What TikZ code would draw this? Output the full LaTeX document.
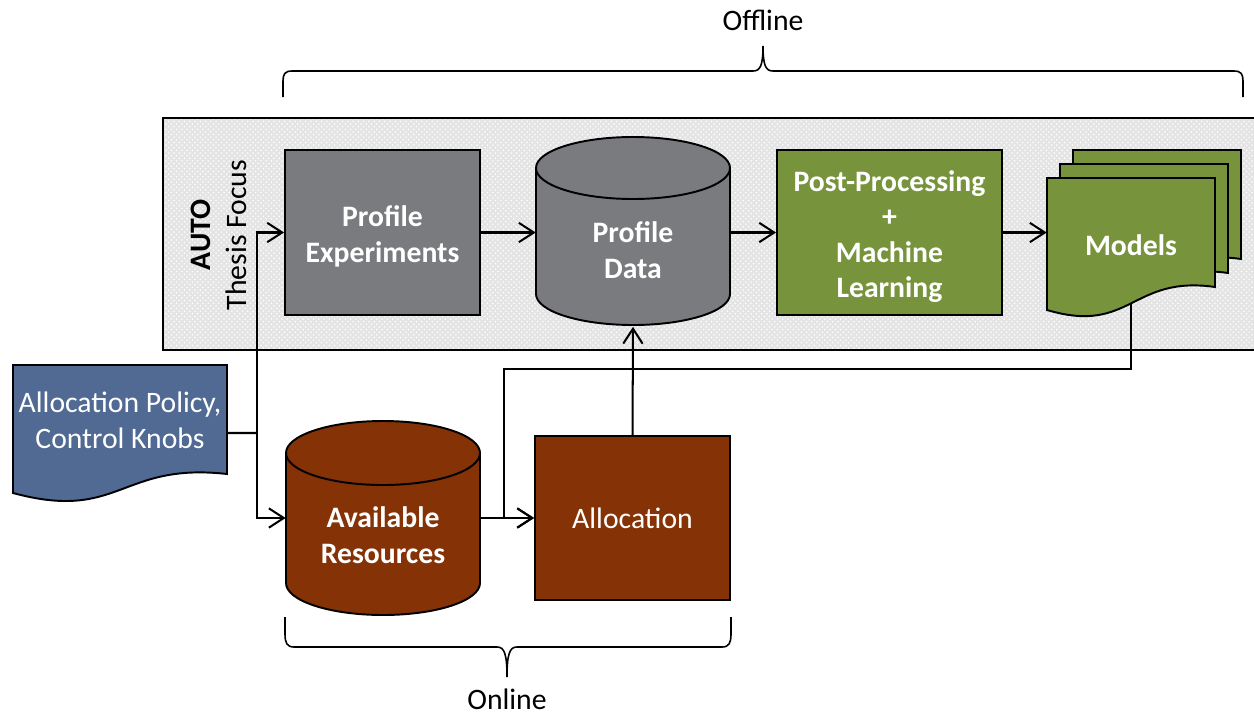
\documentclass[tikz,border=0pt]{standalone}
\usepackage{fontspec}
\setmainfont{Carlito}
\usetikzlibrary{arrows.meta,patterns}

\definecolor{pgray}{RGB}{122,123,126}
\definecolor{pgreen}{RGB}{119,147,60}
\definecolor{pbrown}{RGB}{133,50,6}
\definecolor{pblue}{RGB}{80,106,147}
\definecolor{panel}{RGB}{228,228,228}

\tikzset{
  outline/.style={draw=black,line width=1.1pt},
  conn/.style={draw=black,line width=1.15pt},
  arr/.style={conn,-{Straight Barb[length=8.5pt,width=11pt,line width=1.15pt]}},
  bracestroke/.style={draw=black,line width=0.9pt},
  txt/.style={font=\fontsize{16.9}{20.2}\selectfont,align=center,inner sep=0pt},
  boldtxt/.style={txt,font=\bfseries\fontsize{16.9}{20.2}\selectfont},
  whitebold/.style={boldtxt,text=white},
  whitetxt/.style={txt,text=white},
  lowtext/.style={label={[whitebold,yshift=-0.08cm]center:{#1}}},
}

\begin{document}
\begin{tikzpicture}[x=0.02cm,y=0.02cm]
\useasboundingbox (0,0) rectangle (1254,-717);

% offline work area
\path[fill=panel] (163,-118) rectangle (1262,-350);
\path[pattern=crosshatch dots,pattern color=white] (163,-118) rectangle (1262,-350);
\draw[outline] (163,-118) rectangle (1262,-350);
\node[txt,rotate=90] (focus) at (219,-235) {\textbf{AUTO}\\Thesis Focus};

% Profile Data cylinder
\filldraw[outline,fill=pgray] (536,-168) -- (536,-294)
  arc[start angle=180,end angle=360,x radius=97,y radius=31]
  -- (730,-168) arc[start angle=0,end angle=180,x radius=97,y radius=31] -- cycle;
\draw[outline] (536,-168) arc[start angle=180,end angle=360,x radius=97,y radius=31];

% Available Resources cylinder
\filldraw[outline,fill=pbrown] (286,-453) -- (286,-583)
  arc[start angle=180,end angle=360,x radius=97,y radius=32]
  -- (480,-453) arc[start angle=0,end angle=180,x radius=97,y radius=32] -- cycle;
\draw[outline] (286,-453) arc[start angle=180,end angle=360,x radius=97,y radius=32];

% stacked model documents
\foreach \dx/\dy in {26/28,13/14,0/0}{
  \filldraw[outline,fill=pgreen,shift={(\dx,\dy)}]
    (1047,-178) -- (1215,-178) -- (1215,-287)
    .. controls (1131,-275) and (1131,-335) .. (1047,-310) -- cycle;
}

% policy document
\filldraw[outline,fill=pblue] (13,-365) -- (227,-365) -- (227,-474)
  .. controls (120,-462) and (120,-522) .. (13,-493) -- cycle;

% boxes and labels
\node[outline,fill=pgray,minimum width=3.9cm,minimum height=3.3cm,
      lowtext={Profile\\Experiments}] (pe) at (382.5,-232.5) {};
\node[minimum width=3.88cm,minimum height=3.06cm,whitebold] (pd) at (633,-250) {Profile\\Data};
\node[outline,fill=pgreen,minimum width=4.5cm,minimum height=3.3cm,
      lowtext={Post-Processing\\+\\Machine\\Learning}] (pp) at (889.5,-232.5) {};
\node[minimum width=3.36cm,minimum height=2.68cm,whitebold] (mod) at (1131,-245) {Models};
\node[minimum width=4.28cm,minimum height=2.22cm,whitetxt] (pol) at (120,-420.5) {Allocation Policy,\\Control Knobs};
\node[minimum width=3.88cm,minimum height=3.28cm,whitebold] (ar) at (383,-535) {Available\\Resources};
\node[outline,fill=pbrown,minimum width=3.9cm,minimum height=3.28cm,whitetxt] (al) at (632.5,-518) {\raisebox{-0.04cm}{Allocation}};

% connectors
\coordinate (bus) at (257,-433);
\coordinate (fb) at (504,-369);
\draw[conn] ([yshift=-0.25cm]pol.east) -- (bus);
\draw[arr] (bus) |- (pe.west);
\draw[arr] (bus) |- (al.west -| ar.west);
\draw[arr] (pe.east) -- (pe.east -| pd.west);
\draw[arr] (pd.east |- pp.west) -- (pp.west);
\draw[arr] (pp.east) -- (pp.east -| mod.west);
\draw[arr] (al.west -| ar.east) -- (al.west);
\draw[arr] (al.north) -- (pd.south);
\draw[arr] ([yshift=0.18cm]mod.south) |- (fb) |- (al.west);

% phase braces
\draw[bracestroke] (283,-97) -- (283,-81) .. controls (283,-74) and (285,-71) .. (292,-71)
  -- (753,-71) .. controls (760,-71) and (763,-66) .. (763,-46)
  .. controls (763,-66) and (766,-71) .. (773,-71) -- (1234,-71)
  .. controls (1241,-71) and (1243,-74) .. (1243,-81) -- (1243,-97);
\node[txt] (offline) at (763,-20) {Offline};

\draw[bracestroke] (285,-617) -- (285,-634) .. controls (285,-643) and (287,-647) .. (294,-647)
  -- (497,-647) .. controls (504,-647) and (507,-653) .. (507,-677)
  .. controls (507,-653) and (510,-647) .. (517,-647) -- (722,-647)
  .. controls (729,-647) and (731,-643) .. (731,-634) -- (731,-617);
\node[txt] (online) at (507,-699) {Online};
\end{tikzpicture}
\end{document}
